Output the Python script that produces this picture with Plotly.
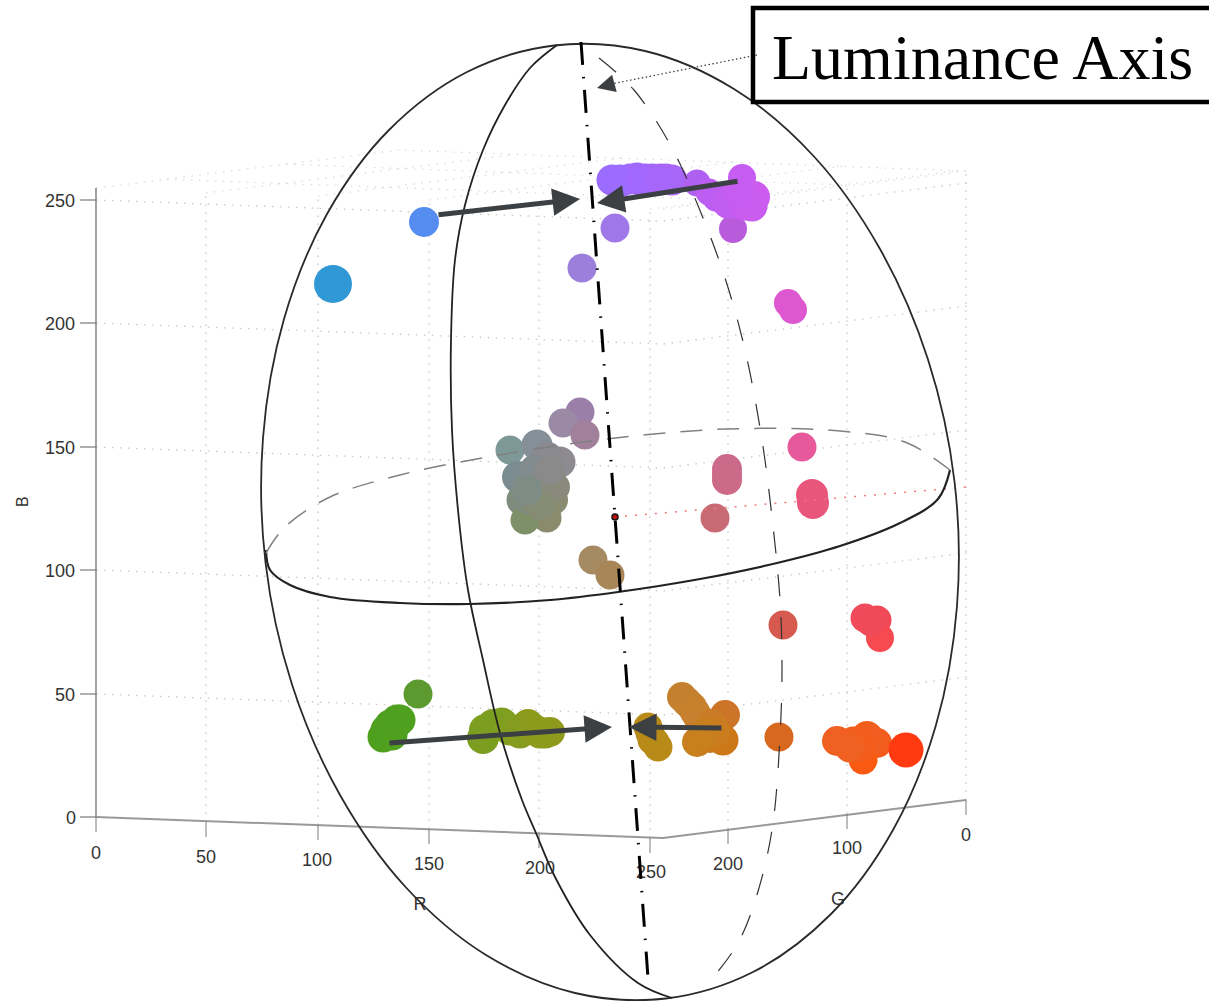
import plotly.graph_objects as go

# ---- data (picture coordinates) ----
point_x = [333, 424, 612, 630, 645, 660, 672, 697, 742, 717, 735, 754, 733, 615, 582, 788, 793,
           580, 563, 585, 510, 537, 560, 547, 518, 537, 522, 553, 547, 525, 593, 610,
           727, 727, 715, 802, 812, 813, 783, 865, 877, 880,
           779, 837, 853, 867, 877, 863, 906,
           682, 692, 698, 725, 697, 710, 723, 648, 652, 658,
           418, 397, 393, 390, 383, 485, 483, 502, 517, 528, 540, 550,
           # filling inside the clusters
           620, 637, 652, 666, 622, 642, 660, 709, 728, 745, 752, 740,
           535, 545, 530, 555, 540, 527, 550, 727,
           871, 870, 860, 850, 687, 695, 702, 712, 715, 704,
           650, 655, 388, 395, 400, 386, 392, 493, 510, 520, 535, 545]
point_y = [284, 222, 180, 179, 179, 179, 180, 183, 178, 197, 196, 197, 229, 228, 268, 303, 310,
           412, 423, 435, 450, 445, 462, 457, 477, 483, 500, 500, 518, 520, 560, 575,
           469, 480, 518, 447, 495, 503, 625, 618, 620, 638,
           737, 741, 742, 737, 743, 760, 750,
           697, 707, 717, 715, 742, 738, 740, 727, 740, 747,
           694, 720, 728, 725, 737, 730, 738, 723, 730, 725, 733, 732,
           180, 178, 179, 179, 181, 181, 180, 192, 203, 205, 206, 192,
           470, 480, 500, 487, 505, 490, 470, 475,
           622, 740, 747, 747, 702, 712, 725, 725, 732, 733,
           733, 742, 732, 725, 720, 730, 735, 725, 730, 733, 730, 733]
point_size = [38, 30, 31, 31, 31, 31, 31, 27, 28, 30, 31, 32, 28, 29, 29, 28, 28,
              29, 29, 29, 29, 31, 31, 31, 32, 32, 31, 30, 29, 29, 29, 29,
              30, 30, 29, 29, 32, 32, 29, 29, 29, 28,
              29, 30, 31, 32, 30, 29, 35,
              30, 30, 30, 30, 30, 30, 31, 29, 29, 29,
              29, 31, 31, 31, 31, 32, 32, 31, 31, 32, 31, 30,
              31, 31, 31, 31, 31, 31, 31, 27, 31, 31, 31, 30,
              31, 31, 31, 30, 31, 31, 30, 30,
              29, 31, 31, 31, 30, 30, 30, 31, 31, 30,
              29, 29, 31, 31, 31, 31, 31, 32, 31, 31, 31, 31]
point_color = ["#3098d4", "#558cf0", "#9b6cff", "#9e6aff", "#a268ff", "#a666fa", "#aa66f8", "#b060f0",
               "#c65cf2", "#bc5ef2", "#c45cf2", "#cc5cf0", "#b85cdc", "#a077e8", "#9a7fdb", "#dd58d0", "#dd58d0",
               "#9a7fa8", "#9a8aa5", "#a0809a", "#7e9898", "#848f98", "#8d8a90", "#8a8a90", "#7a8c90", "#7e8a86",
               "#7d8c7d", "#8a8c72", "#8a8a6c", "#7e9068", "#a58a62", "#a88658",
               "#cc6a8c", "#cc6a88", "#c86a74", "#e65a9c", "#e8567c", "#e8567c", "#d65a50", "#f04a5c", "#f04a58", "#f64a50",
               "#d8681e", "#f06020", "#f25e20", "#f25e1c", "#f45c1c", "#fa5a10", "#ff3a10",
               "#c4802e", "#c6802e", "#c88030", "#cc7428", "#c8801e", "#ca7c1c", "#cc7818", "#b88a18", "#b88a18", "#b88a18",
               "#5c9a30", "#4ea01e", "#4ea01e", "#4ea01e", "#4ea01e", "#7c9e20", "#7c9e20", "#809e20", "#869c1e", "#8c9a1c", "#909a1c", "#909a1c",
               "#9d6bff", "#a069ff", "#a467fc", "#a866f8", "#9d6bff", "#a268ff", "#a666fa", "#bc5ef2", "#c25df2", "#c85cf0", "#ca5cf0", "#c65cf2",
               "#828c90", "#868a88", "#7f8b7e", "#8a8a7c", "#868b74", "#7e8c86", "#8a8a8a", "#cc6a8a",
               "#f04a58", "#f25e20", "#f45c1c", "#f06020", "#c4802e", "#c6802e", "#c88030", "#ca7c26", "#ca7c1e", "#c8801e",
               "#b88a18", "#b88a18", "#4ea01e", "#4ea01e", "#4ea01e", "#4ea01e", "#4ea01e", "#7c9e20", "#829e20", "#869c1e", "#8c9a1c", "#8e9a1c"]

r_ticks = ["0", "50", "100", "150", "200", "250"]
r_tick_x = [96, 206, 318, 429, 539, 650]
r_tick_y = [817, 822, 825, 829, 833, 838]
r_label_x = [96, 206, 317, 429, 540, 651]
r_label_y = [854, 858, 861, 865, 869, 873]
g_ticks = ["0", "100", "200"]
g_tick_x = [966, 847, 728]
g_tick_y = [800, 814, 829]
g_label_x = [966, 847, 728]
g_label_y = [836, 849, 865]
b_ticks = ["0", "50", "100", "150", "200", "250"]
b_tick_y = [817, 694, 570, 447, 323, 200]

outer_x = [575, 666, 753, 831, 893, 936, 957, 954.5, 928, 880, 814, 734, 645, 554, 467, 389, 327, 284, 263, 265.5, 292, 340, 406, 486, 575]
outer_y = [993, 998.5, 972, 914, 830, 725, 606, 481.5, 359.5, 249, 156.5, 89, 51, 45.5, 72, 130, 214, 319, 438, 562.5, 684.5, 795, 887.5, 955, 993]
meridian_x = [557, 530, 505, 483, 465, 455, 451, 452, 459, 468, 483, 500, 522, 536, 555, 590, 638, 672]
meridian_y = [45, 68, 105, 150, 205, 260, 340, 430, 520, 590, 660, 733, 800, 833, 877, 935, 983, 998]
back_x = [599, 634, 672, 701, 725, 745, 762, 773, 780, 782, 780, 772, 756, 738, 711]
back_y = [58, 90, 148, 213, 278, 350, 440, 526, 600, 665, 737, 830, 898, 943, 980]
equator_front_x = [266, 270, 290, 330, 400, 470, 550, 618, 700, 777, 840, 900, 938, 950]
equator_front_y = [550, 570, 585, 597, 603, 604, 600, 592, 579, 563, 546, 523, 499, 470]
equator_back_x = [266, 285, 330, 400, 488, 607, 727, 840, 905, 950]
equator_back_y = [553, 527, 497, 475, 457, 439, 429, 431, 442, 470]
lum_axis_x = [581, 648]
lum_axis_y = [42, 978]
red_line_x = [615, 967]
red_line_y = [517, 487]
arrow_tail_x = [437, 739, 388, 723]
arrow_tail_y = [215, 181, 743, 728]
arrow_tip_x = [580, 597, 612, 629]
arrow_tip_y = [199, 203, 727, 727]

GRID = "#c8c8c8"
AXIS = "#7a7a7a"
TEXT = "#333333"
fig = go.Figure()


def line(x, y, color, width, dash="solid", shape="linear"):
    fig.add_trace(go.Scatter(x=x, y=y, mode="lines", hoverinfo="skip",
                             line=dict(color=color, width=width, dash=dash, shape=shape, smoothing=1.0)))


# ---- dotted 3-D grid ----
DOT = "1.5px,6.5px"
corner_dx, corner_dy = 663 - 96, 838 - 817
right_dx, right_dy = 967 - 663, 800 - 838
for b_y in b_tick_y[1:]:
    line([96, 96 + corner_dx, 96 + corner_dx + right_dx],
         [b_y, b_y + corner_dy, b_y + corner_dy + right_dy], GRID, 1.3, DOT)
for tx, ty in zip(r_tick_x[1:] + g_tick_x, r_tick_y[1:] + g_tick_y):
    line([tx, tx], [ty, ty - 629], GRID, 1.3, DOT)
# top face of the box
for tx, ty in zip(r_tick_x + [663], r_tick_y + [838]):
    line([tx, tx + right_dx], [ty - 629, ty - 629 + right_dy], "#d8d8d8", 1.2, DOT)
for tx, ty in zip(g_tick_x, g_tick_y):
    line([tx, tx - corner_dx], [ty - 629, ty - 629 - corner_dy], "#d8d8d8", 1.2, DOT)

# ---- axes ----
line([96, 96], [188, 817], AXIS, 1.4)
line([96, 663, 966], [817, 838, 800], "#999999", 2)
for y in b_tick_y:
    line([80, 96], [y, y], AXIS, 1.2)
for tx, ty in zip(r_tick_x, r_tick_y):
    line([tx, tx], [ty, ty + 15], AXIS, 1)
for tx, ty in zip(g_tick_x, g_tick_y):
    line([tx, tx], [ty, ty + 15], AXIS, 1)

# ---- points ----
fig.add_trace(go.Scatter(x=point_x, y=point_y, mode="markers", hoverinfo="skip",
                         marker=dict(size=point_size, color=point_color, line=dict(width=0), opacity=1)))
line(red_line_x, red_line_y, "#f27878", 1.5, "2px,8px")
fig.add_trace(go.Scatter(x=red_line_x[:1], y=red_line_y[:1], mode="markers", hoverinfo="skip",
                         marker=dict(size=6, color="#c01010", line=dict(color="#111111", width=1.5))))

# ---- tick labels ----
fig.add_trace(go.Scatter(x=r_label_x + g_label_x + [75] * 5 + [76, 420, 838],
                         y=r_label_y + g_label_y + [y + 2 for y in b_tick_y[1:]] + [819, 905, 900],
                         text=r_ticks + g_ticks + b_ticks[1:] + ["0", "R", "G"],
                         mode="text", hoverinfo="skip",
                         textposition=["middle center"] * 9 + ["middle left"] * 6 + ["middle center"] * 2,
                         textfont=dict(family="Liberation Sans", size=18, color=TEXT)))

# ---- sphere ----
line(outer_x, outer_y, "#2a2a2a", 1.8, shape="spline")
line(meridian_x, meridian_y, "#222222", 1.8, shape="spline")
line(back_x, back_y, "#333333", 1.2, "22px,21px", "spline")
line(equator_front_x, equator_front_y, "#222222", 2.2, shape="spline")
line(equator_back_x, equator_back_y, "#808080", 1.5, "22px,15px", "spline")
line(lum_axis_x, lum_axis_y, "#000000", 3, "23px,12px,1.5px,11.5px")

# ---- callout ----
line([757, 606], [55, 85], "#333333", 1.2, "1.5px,2.5px")
annotations = [
    dict(x=597, y=88, ax=612, ay=84, xref="x", yref="y", axref="x", ayref="y", text="", showarrow=True,
         arrowhead=2, arrowsize=1.8, arrowwidth=2, arrowcolor="#3c4043", standoff=0),
    dict(x=982, y=57, xref="x", yref="y", text="Luminance Axis", showarrow=False, xanchor="center", yanchor="middle",
         font=dict(family="Liberation Serif", size=64, color="#000000")),
    dict(x=22, y=502, xref="x", yref="y", text="B", textangle=-90, showarrow=False,
         font=dict(family="Liberation Sans", size=16, color=TEXT)),
]
for tx, ty, hx, hy in zip(arrow_tail_x, arrow_tail_y, arrow_tip_x, arrow_tip_y):
    annotations.append(dict(x=hx, y=hy, ax=tx, ay=ty, xref="x", yref="y", axref="x", ayref="y", text="",
                            showarrow=True, arrowhead=2, arrowsize=1.1, arrowwidth=5,
                            arrowcolor="#3c4043", standoff=0))

fig.update_layout(
    width=1209, height=1001, autosize=False, showlegend=False,
    margin=dict(l=0, r=0, t=0, b=0, pad=0),
    paper_bgcolor="white", plot_bgcolor="white",
    xaxis=dict(range=[0, 1209], visible=False, fixedrange=True),
    yaxis=dict(range=[1001, 0], visible=False, fixedrange=True),
    annotations=annotations,
    shapes=[dict(type="rect", xref="x", yref="y", x0=753, y0=8, x1=1220, y1=102,
                 line=dict(color="#000000", width=4.5), fillcolor="rgba(0,0,0,0)")],
)
fig.write_html("out.html", config=dict(displayModeBar=False),
               post_script="document.body.style.margin='0';document.body.style.overflow='hidden';")
